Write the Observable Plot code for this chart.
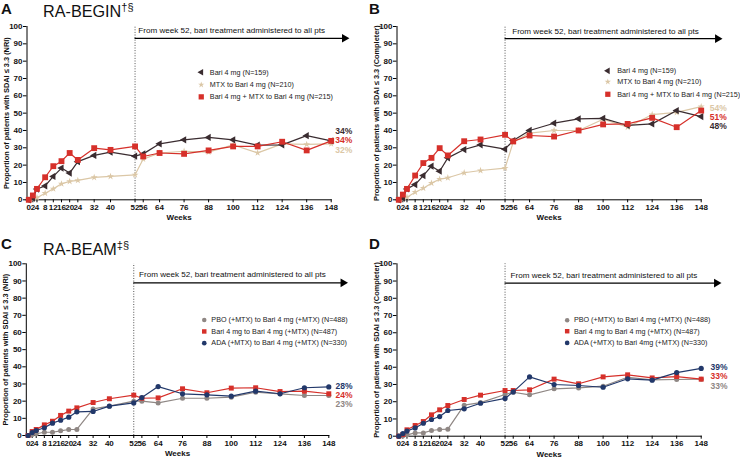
<!DOCTYPE html>
<html>
<head>
<meta charset="utf-8">
<script src="https://cdn.jsdelivr.net/npm/d3@7"></script>
<script src="https://cdn.jsdelivr.net/npm/@observablehq/plot@0.6"></script>
<style>
  html, body { margin: 0; padding: 0; background: #fff; }
  #wrap { position: relative; width: 740px; height: 460px; overflow: hidden; background: #fff;
          font-family: "Liberation Sans", Arial, sans-serif; color: #111; }
  .panel { position: absolute; width: 370px; height: 230px; }
  .panel svg { overflow: visible; display: block; }
  .letter { position: absolute; font-weight: bold; font-size: 15px; line-height: 1; }
  .title { position: absolute; font-size: 16.2px; line-height: 1; white-space: nowrap; }
  .title sup { font-size: 11px; vertical-align: 0; position: relative; top: -6px; }
</style>
</head>
<body>
<div id="wrap"></div>
<script>
// ---------------- data ----------------
const weeks = [0, 2, 4, 8, 12, 16, 20, 24, 32, 40, 52, 56, 64, 76, 88, 100, 112, 124, 136, 148];
const weekTickLabels = ["0", "2", "4", "8", "12", "16", "20", "24", "32", "40", "52", "56", "64", "76", "88", "100", "112", "124", "136", "148"];
const yTicks = [0, 10, 20, 30, 40, 50, 60, 70, 80, 90, 100];

// RA-BEGIN, NRI (panel A)
const beginNriBari  = [0, 1, 6.2, 8, 13.5, 18.3, 15.4, 22, 25.6, 27.5, 25.2, 26.5, 32.3, 34.6, 36, 34.6, 31.5, 31.7, 37, 34];
const beginNriMtx   = [0, 0.5, 1.2, 3.8, 6.3, 9.2, 10.6, 11.2, 12.9, 13.5, 14.4, 23.5, 27, 28, 27.5, 31.7, 27.1, 32.3, 32, 32.3];
const beginNriCombo = [0, 2.5, 6.3, 13, 19.4, 22.3, 27, 23, 29.8, 28.8, 30.8, 25, 27, 26.5, 28.5, 30.8, 30.8, 33.5, 28.5, 34];

// RA-BEGIN, Completer (panel B)
const beginCompBari  = [0, 1, 6.3, 8.8, 14, 19.4, 16.5, 24.2, 29, 31.7, 29.2, 34.2, 40, 44.2, 46.7, 47, 42.9, 43.8, 51.5, 48];
const beginCompMtx   = [0, 0.5, 1.5, 4.4, 6.7, 9.6, 11.9, 12.7, 15.6, 16.9, 18.3, 33.3, 38.5, 40, 40, 46.5, 41.9, 49.2, 50.4, 53.8];
const beginCompCombo = [0, 3, 6.3, 14, 21.2, 24.2, 29.8, 25.6, 33.8, 34.8, 37.5, 33.7, 37.1, 36.5, 40, 43.5, 43.8, 47.3, 41.9, 51.5];

// RA-BEAM, NRI (panel C)
const beamNriPbo  = [0, 0.6, 1, 1.9, 1.9, 2.7, 3.5, 3.5, 15.5, 17.1, 20, 20, 19, 21.7, 21.7, 22.3, 25.2, 24.3, 23.3, 23.3];
const beamNriBari = [0, 2.3, 3.5, 6.2, 8.3, 11.7, 14.2, 16.1, 19.2, 21.4, 23.5, 21.7, 21.9, 27.2, 24.9, 27.6, 27.8, 25.6, 25.8, 24.3];
const beamNriAda  = [0, 1.7, 2.9, 4.5, 7.2, 8.9, 10.7, 13.8, 14, 17.1, 19, 22.1, 28.5, 24.3, 23.7, 22.9, 25.8, 24.3, 27.8, 28.3];

// RA-BEAM, Completer (panel D)
const beamCompPbo  = [0, 0.3, 0.8, 1.9, 1.9, 3.3, 3.9, 4.1, 18, 19.5, 24.2, 25.5, 24, 27.5, 28, 29, 34.2, 32.7, 32.9, 33.1];
const beamCompBari = [0, 1, 3.7, 6.2, 8.5, 12.4, 15.3, 17.8, 21.3, 23.8, 26.5, 26.5, 26.9, 33.1, 30.4, 34.4, 35.6, 33.8, 34.6, 33.1];
const beamCompAda  = [0, 1.5, 3, 4.8, 7.5, 9.7, 11.4, 14.9, 15.9, 19.1, 21.9, 25.7, 34.4, 30, 29.4, 28.4, 33.3, 32.5, 36.9, 39.3];

// labels
const beginLegend = ["Bari 4 mg (N=159)", "MTX to Bari 4 mg (N=210)", "Bari 4 mg + MTX to Bari 4 mg (N=215)"];
const beamLegendC = ["PBO (+MTX) to Bari 4 mg (+MTX) (N=488)", "Bari 4 mg to Bari 4 mg (+MTX) (N=487)", "ADA (+MTX) to Bari 4 mg (+MTX) (N=330)"];
const beamLegendD = ["PBO (+MTX) to Bari 4 mg (+MTX) (N=488)", "Bari 4 mg to Bari 4 mg (+MTX) (N=487)", "ADA (+MTX) to Bari 4mg (+MTX) (N=330)"];
const endLabelsA = ["34%", "34%", "32%"];   // Bari, Combo, MTX
const endLabelsB = ["54%", "51%", "48%"];   // MTX, Combo, Bari
const endLabelsC = ["28%", "24%", "23%"];   // ADA, Bari, PBO
const endLabelsD = ["39%", "33%", "33%"];   // ADA, Bari, PBO
const noteText = "From week 52, bari treatment administered to all pts";
const yLabelNri = "Proportion of patients with SDAI \u2264 3.3 (NRI)";
const yLabelComp = "Proportion of patients with SDAI \u2264 3.3 (Completer)";

// ---------------- styles ----------------
const C_DARK = "#3a2c30", C_TAN = "#dbc7a6", C_RED = "#d6302a", C_BLUE = "#22386a", C_GRAY = "#8f8784";

const styleBari = {color: C_DARK, symbol: "triangle", rotate: -90, r: 2.7};
const styleMtx = {color: C_TAN, symbol: "star", rotate: 0, r: 2.2};
const styleCombo = {color: C_RED, symbol: "square", rotate: 0, r: 3.3};
const stylePbo = {color: C_GRAY, symbol: "circle", rotate: 0, r: 2.5};
const styleBari2 = {color: C_RED, symbol: "square", rotate: 0, r: 2.8};
const styleAda = {color: C_BLUE, symbol: "circle", rotate: 0, r: 2.6};

const panels = [
  { left: 0, top: 0, mt: 26, mb: 30.7, ml: 26.5, mr: 39.3, ylabel: yLabelNri,
    series: [{values: beginNriMtx, ...styleMtx}, {values: beginNriBari, ...styleBari}, {values: beginNriCombo, ...styleCombo}],
    legend: [{t: beginLegend[0], ...styleBari}, {t: beginLegend[1], ...styleMtx}, {t: beginLegend[2], ...styleCombo}],
    legendX: 84.4, legendTextX: 88.6, legendY: [73.6, 66.4, 59.4],
    ends: [{t: endLabelsA[0], c: C_DARK}, {t: endLabelsA[1], c: C_RED}, {t: endLabelsA[2], c: C_TAN}],
    endX: 150, endY: [39.6, 34.2, 28.4],
    noteX: 53.6, noteY: 98, arrowY: 93.2, arrowX2: 154.5 },
  { left: 370, top: 0, mt: 26, mb: 30.7, ml: 26.5, mr: 39.3, ylabel: yLabelComp,
    series: [{values: beginCompMtx, ...styleMtx}, {values: beginCompBari, ...styleBari}, {values: beginCompCombo, ...styleCombo}],
    legend: [{t: beginLegend[0], ...styleBari}, {t: beginLegend[1], ...styleMtx}, {t: beginLegend[2], ...styleCombo}],
    legendX: 102.3, legendTextX: 106.9, legendY: [74.4, 68.1, 60.9],
    ends: [{t: endLabelsB[0], c: C_TAN}, {t: endLabelsB[1], c: C_RED}, {t: endLabelsB[2], c: C_DARK}],
    endX: 152.2, endY: [52.9, 47.7, 42.3],
    noteX: 55.5, noteY: 97.3, arrowY: 93, arrowX2: 156 },
  { left: 0, top: 230, mt: 33.3, mb: 25, ml: 25.8, mr: 41.7, ylabel: yLabelNri,
    series: [{values: beamNriPbo, ...stylePbo}, {values: beamNriBari, ...styleBari2}, {values: beamNriAda, ...styleAda}],
    legend: [{t: beamLegendC[0], ...stylePbo}, {t: beamLegendC[1], ...styleBari2}, {t: beamLegendC[2], ...styleAda}],
    legendX: 86.7, legendTextX: 90.2, legendY: [67.2, 60.6, 53.8],
    ends: [{t: endLabelsC[0], c: C_BLUE}, {t: endLabelsC[1], c: C_RED}, {t: endLabelsC[2], c: C_GRAY}],
    endX: 151.3, endY: [28.7, 23.3, 18.1],
    noteX: 54.6, noteY: 93.7, arrowY: 88.9, arrowX2: 155 },
  { left: 370, top: 230, mt: 33.3, mb: 24.3, ml: 26.5, mr: 39.3, ylabel: yLabelComp,
    series: [{values: beamCompPbo, ...stylePbo}, {values: beamCompBari, ...styleBari2}, {values: beamCompAda, ...styleAda}],
    legend: [{t: beamLegendD[0], ...stylePbo}, {t: beamLegendD[1], ...styleBari2}, {t: beamLegendD[2], ...styleAda}],
    legendX: 82.4, legendTextX: 85.7, legendY: [67.3, 60.9, 54.1],
    ends: [{t: endLabelsD[0], c: C_BLUE}, {t: endLabelsD[1], c: C_RED}, {t: endLabelsD[2], c: C_GRAY}],
    endX: 152.6, endY: [40, 34.6, 29.2],
    noteX: 54.7, noteY: 93.3, arrowY: 88.8, arrowX2: 155.5 }
];

const headings = [
  {letter: "A", lx: 1, ly: 0.6, title: "RA-BEGIN", sup: "\u2020\u00a7", tx: 43, ty: 3},
  {letter: "B", lx: 369, ly: 0.6},
  {letter: "C", lx: 1, ly: 235.6, title: "RA-BEAM", sup: "\u2021\u00a7", tx: 43, ty: 240.5},
  {letter: "D", lx: 369, ly: 235.6}
];

// ---------------- render ----------------
const wrap = document.getElementById("wrap");
const FONT = "Liberation Sans, Arial, sans-serif";

for (const p of panels) {
  const marks = [];
  // week-52 dotted divider
  marks.push(Plot.ruleX([52], {y1: 0, y2: 100, stroke: "#555", strokeWidth: 1, strokeDasharray: "1,1.6"}));
  // annotation arrow
  marks.push(Plot.ruleY([p.arrowY], {x1: 52, x2: p.arrowX2, stroke: "#000", strokeWidth: 1.2}));
  marks.push(Plot.dot([{x: p.arrowX2, y: p.arrowY}], {x: "x", y: "y", symbol: "triangle", rotate: 90, r: 3.2, fill: "#000"}));
  marks.push(Plot.text([noteText], {x: p.noteX, y: p.noteY, textAnchor: "start", fontSize: 8.1, fill: "#111"}));
  // axes
  marks.push(Plot.frame({anchor: "left", stroke: "#000", strokeWidth: 1}));
  marks.push(Plot.frame({anchor: "bottom", stroke: "#000", strokeWidth: 1}));
  marks.push(Plot.axisY({ticks: yTicks, tickSize: 3.5, tickPadding: 1, fontSize: 8, fontWeight: "bold", label: null, stroke: "#000"}));
  marks.push(Plot.axisX({ticks: weeks, tickFormat: (d) => weekTickLabels[weeks.indexOf(d)], tickSize: 3, tickPadding: 1.5,
    fontSize: 8, fontWeight: "bold", label: null, stroke: "#000"}));
  marks.push(Plot.text([p.ylabel], {frameAnchor: "left", rotate: -90, dx: -20.5, textAnchor: "middle", lineAnchor: "middle",
    fontSize: 7.4, fontWeight: "bold", fill: "#111"}));
  marks.push(Plot.text(["Weeks"], {frameAnchor: "bottom", dy: 20.5, textAnchor: "middle", fontSize: 8, fontWeight: "bold", fill: "#111"}));
  // series
  for (const s of p.series) {
    const data = weeks.map((w, i) => ({week: w, value: s.values[i]}));
    marks.push(Plot.line(data, {x: "week", y: "value", stroke: s.color, strokeWidth: 1.2}));
    marks.push(Plot.dot(data, {x: "week", y: "value", symbol: s.symbol, rotate: s.rotate, r: s.r, fill: s.color, stroke: "none"}));
  }
  // legend
  const leg = p.legend.map((d, i) => ({...d, y: p.legendY[i]}));
  for (const d of leg) {
    marks.push(Plot.dot([d], {x: () => p.legendX, y: "y", symbol: d.symbol, rotate: d.rotate, r: d.r * 0.9, fill: d.color}));
  }
  marks.push(Plot.text(leg, {x: () => p.legendTextX, y: "y", text: "t", textAnchor: "start", fontSize: 7.2, fill: "#222"}));
  // end labels
  const ends = p.ends.map((d, i) => ({...d, y: p.endY[i]}));
  marks.push(Plot.text(ends, {x: () => p.endX, y: "y", text: "t", fill: "c", textAnchor: "start", fontSize: 8.5, fontWeight: "bold"}));

  const chart = Plot.plot({
    width: 370, height: 230,
    marginTop: p.mt, marginBottom: p.mb, marginLeft: p.ml, marginRight: p.mr,
    insetLeft: 1.8,
    x: {domain: [0, 148]},
    y: {domain: [0, 100]},
    style: {fontFamily: FONT, background: "transparent", overflow: "visible"},
    marks
  });
  const div = document.createElement("div");
  div.className = "panel";
  div.style.left = p.left + "px";
  div.style.top = p.top + "px";
  div.appendChild(chart);
  wrap.appendChild(div);
}

for (const h of headings) {
  const l = document.createElement("div");
  l.className = "letter";
  l.textContent = h.letter;
  l.style.left = h.lx + "px";
  l.style.top = h.ly + "px";
  wrap.appendChild(l);
  if (h.title) {
    const t = document.createElement("div");
    t.className = "title";
    t.style.left = h.tx + "px";
    t.style.top = h.ty + "px";
    t.appendChild(document.createTextNode(h.title));
    const s = document.createElement("sup");
    s.textContent = h.sup;
    t.appendChild(s);
    wrap.appendChild(t);
  }
}
</script>
</body>
</html>
